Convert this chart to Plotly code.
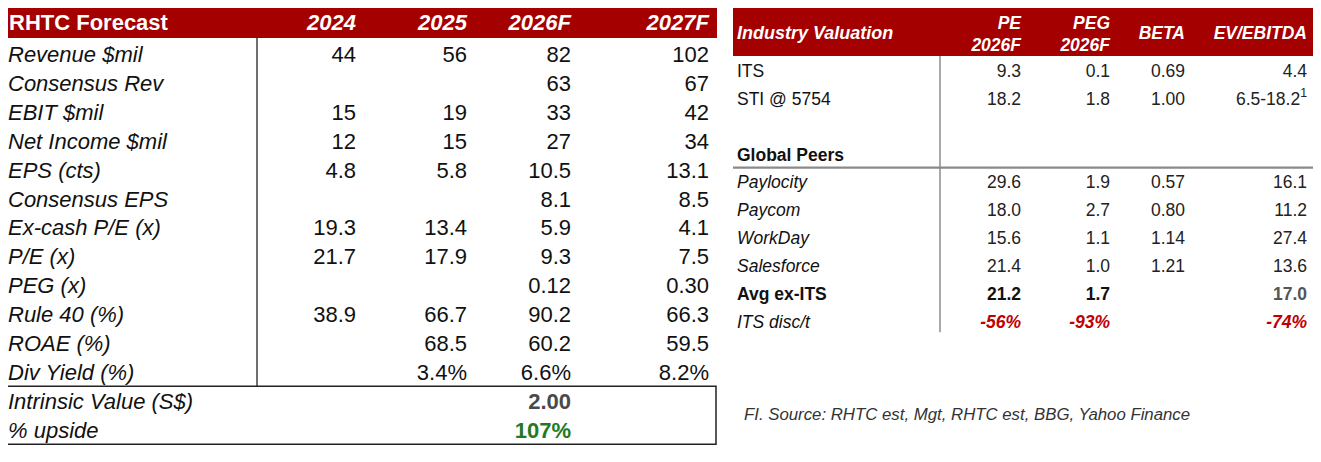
import plotly.graph_objects as go

# ---- left table: RHTC forecast ----
fc_title = "RHTC Forecast"
fc_years = ["2024", "2025", "2026F", "2027F"]
fc_labels = ["Revenue $mil", "Consensus Rev", "EBIT $mil", "Net Income $mil",
             "EPS (cts)", "Consensus EPS", "Ex-cash P/E (x)", "P/E (x)",
             "PEG (x)", "Rule 40 (%)", "ROAE (%)", "Div Yield (%)"]
fc_2024 = ["44", "", "15", "12", "4.8", "", "19.3", "21.7", "", "38.9", "", ""]
fc_2025 = ["56", "", "19", "15", "5.8", "", "13.4", "17.9", "", "66.7", "68.5", "3.4%"]
fc_2026 = ["82", "63", "33", "27", "10.5", "8.1", "5.9", "9.3", "0.12", "90.2", "60.2", "6.6%"]
fc_2027 = ["102", "67", "42", "34", "13.1", "8.5", "4.1", "7.5", "0.30", "66.3", "59.5", "8.2%"]
iv_labels = ["Intrinsic Value (S$)", "% upside"]
iv_values = ["2.00", "107%"]

# ---- right table: industry valuation ----
iv_title = "Industry Valuation"
val_headers = ["PE<br>2026F", "PEG<br>2026F", "BETA", "EV/EBITDA"]
val_rows = ["ITS", "STI @ 5754", "", "Global Peers", "Paylocity", "Paycom",
            "WorkDay", "Salesforce", "Avg ex-ITS", "ITS disc/t"]
val_pe = ["9.3", "18.2", "", "", "29.6", "18.0", "15.6", "21.4", "21.2", "-56%"]
val_peg = ["0.1", "1.8", "", "", "1.9", "2.7", "1.1", "1.0", "1.7", "-93%"]
val_beta = ["0.69", "1.00", "", "", "0.57", "0.80", "1.14", "1.21", "", ""]
val_ev = ["4.4", "6.5-18.2<sup>1</sup>", "", "", "16.1", "11.2", "27.4", "13.6", "17.0", "-74%"]
footnote = "FI. Source: RHTC est, Mgt, RHTC est, BBG, Yahoo Finance"

RED = "#a50000"
INK = "#111111"
FONT = "Liberation Sans, Arial, sans-serif"
TEXT_DY = 2.5  # plotly sits "middle" text a touch high

fig = go.Figure()


def add_text(xs, ys, texts, pos, size, color=INK):
    # skip empty cells
    if not isinstance(color, list):
        color = [color] * len(texts)
    keep = [k for k, t in enumerate(texts) if t != ""]
    fig.add_trace(go.Scatter(
        x=[xs[k] for k in keep], y=[ys[k] + TEXT_DY for k in keep],
        text=[texts[k] for k in keep], mode="text", textposition=pos,
        textfont=dict(family=FONT, size=size, color=[color[k] for k in keep]),
        hoverinfo="skip", showlegend=False,
    ))


def fmt(t, b=False, i=False):
    if t == "":
        return t
    if i:
        t = "<i>" + t + "</i>"
    if b:
        t = "<b>" + t + "</b>"
    return t


# left table layout
L_x0, L_x1, L_div = 5, 717, 257
L_cols = [356, 467, 571, 709]
L_row0, L_step = 54, 28.9
L_size = 22
l_rows = [L_row0 + k * L_step for k in range(len(fc_labels) + len(iv_labels))]

fig.add_shape(type="rect", x0=L_x0, x1=L_x1, y0=8, y1=38,
              fillcolor=RED, line_width=0, layer="below")
add_text([L_x0 + 4], [22], [fmt(fc_title, b=True)], "middle right", L_size, "white")
add_text(L_cols, [22] * 4, [fmt(y, b=True, i=True) for y in fc_years],
         "middle left", L_size, "white")

n = len(fc_labels)
add_text([L_x0 + 3] * n, l_rows[:n], [fmt(s, i=True) for s in fc_labels],
         "middle right", L_size)
for cx, col in zip(L_cols, [fc_2024, fc_2025, fc_2026, fc_2027]):
    add_text([cx] * n, l_rows[:n], col, "middle left", L_size)

box_top = l_rows[n - 1] + L_step / 2
box_bot = l_rows[-1] + L_step / 2
fig.add_shape(type="line", x0=L_div, x1=L_div, y0=38, y1=box_top,
              line=dict(color="#222222", width=1.3))
fig.add_shape(type="rect", x0=L_x0, x1=L_x1 - 1, y0=box_top, y1=box_bot,
              line=dict(color="#222222", width=1.5))
add_text([L_x0 + 3] * 2, l_rows[n:], [fmt(s, i=True) for s in iv_labels],
         "middle right", L_size)
add_text([L_cols[2]] * 2, l_rows[n:], [fmt(v, b=True) for v in iv_values],
         "middle left", L_size, ["#4a4a4a", "#237a23"])

# right table layout
R_x0, R_x1, R_div = 733, 1314, 940
R_cols = [1021, 1110, 1185, 1307]
R_row0, R_step = 70, 27.9
R_size = 17.5
r_rows = [R_row0 + k * R_step for k in range(len(val_rows))]

fig.add_shape(type="rect", x0=R_x0, x1=R_x1, y0=7, y1=56,
              fillcolor=RED, line_width=0, layer="below")
add_text([R_x0 + 4], [32], [fmt(iv_title, b=True, i=True)], "middle right", 18, "white")
add_text(R_cols, [33, 33, 32, 32], [fmt(h, b=True, i=True) for h in val_headers],
         "middle left", R_size, "white")

peer_start = val_rows.index("Global Peers")
fig.add_shape(type="line", x0=R_div, x1=R_div, y0=56, y1=r_rows[-1] + R_step * 0.4,
              line=dict(color="#555555", width=1))
fig.add_shape(type="line", x0=R_x0, x1=R_x1,
              y0=r_rows[peer_start] + R_step * 0.5, y1=r_rows[peer_start] + R_step * 0.5,
              line=dict(color="#8a8a8a", width=2.2))

avg_i = val_rows.index("Avg ex-ITS")
disc_i = val_rows.index("ITS disc/t")
row_fmt = []
for k, name in enumerate(val_rows):
    bold = name in ("Global Peers", "Avg ex-ITS")
    ital = k > peer_start and k != avg_i
    row_fmt.append(fmt(name, b=bold, i=ital))
add_text([R_x0 + 4] * len(val_rows), r_rows, row_fmt, "middle right", R_size)

for j, (cx, col) in enumerate(zip(R_cols, [val_pe, val_peg, val_beta, val_ev])):
    texts, colors = [], []
    for k, v in enumerate(col):
        if k == avg_i:
            texts.append(fmt(v, b=True))
            colors.append("#555555" if j == 3 else INK)
        elif k == disc_i:
            texts.append(fmt(v, b=True, i=True))
            colors.append("#c00000")
        else:
            texts.append(v)
            colors.append("#222222")
    add_text([cx] * len(col), r_rows, texts, "middle left", R_size, colors)

add_text([744], [413], [fmt(footnote, i=True)], "middle right", 16.8, "#333333")

# page body has an 8px margin: offset the axis ranges so coordinates match the page
fig.update_layout(
    width=1305, height=446,
    margin=dict(l=0, r=0, t=0, b=0),
    plot_bgcolor="white", paper_bgcolor="white",
    xaxis=dict(range=[8, 1313], visible=False, fixedrange=True),
    yaxis=dict(range=[454, 8], visible=False, fixedrange=True),
    showlegend=False,
)

fig.write_html("out.html")
